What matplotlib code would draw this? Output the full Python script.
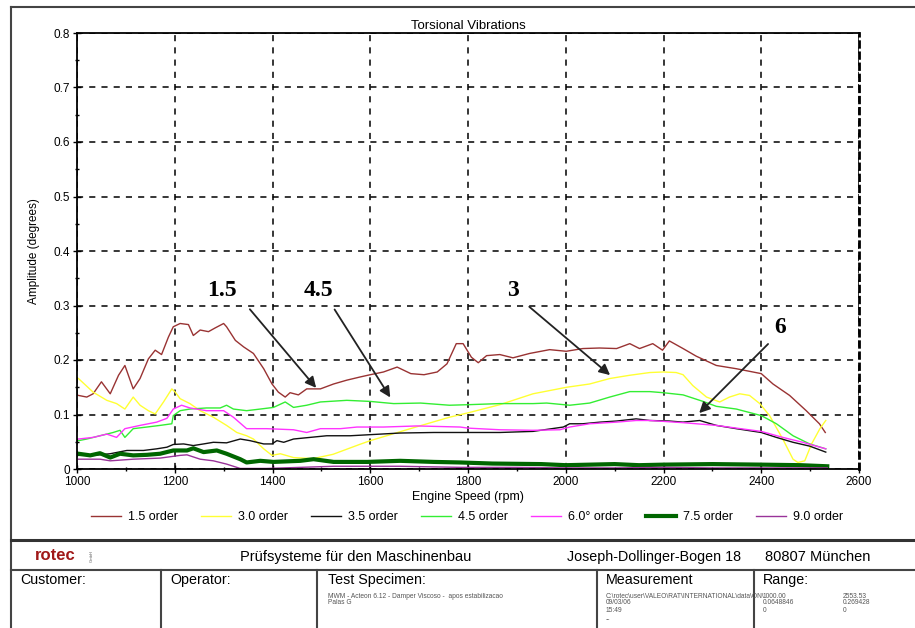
import numpy as np
import matplotlib
matplotlib.use("Agg")
import matplotlib.pyplot as plt
from matplotlib.lines import Line2D

plt.rcParams['font.family'] = ['Liberation Sans', 'DejaVu Sans']

# order curves: engine speed (rpm) and amplitude (degrees)
o15_rpm = [1003, 1020, 1033, 1050, 1068, 1085, 1098, 1115, 1129, 1146, 1160, 1173, 1187, 1197, 1211,
           1228, 1238, 1252, 1269, 1283, 1300, 1306, 1324, 1341, 1361, 1382, 1399, 1412, 1426, 1436,
           1453, 1470, 1498, 1525, 1552, 1580, 1600, 1627, 1655, 1683, 1710, 1737, 1757, 1776, 1790,
           1807, 1821, 1838, 1865, 1892, 1926, 1967, 2001, 2035, 2069, 2104, 2131, 2151, 2178, 2198,
           2212, 2240, 2267, 2308, 2349, 2400, 2424, 2458, 2492, 2519, 2531]
o15_amp = [0.135, 0.132, 0.138, 0.160, 0.138, 0.172, 0.190, 0.147, 0.166, 0.202, 0.218, 0.210, 0.242, 0.261, 0.267,
           0.265, 0.245, 0.255, 0.252, 0.259, 0.267, 0.261, 0.236, 0.224, 0.212, 0.184, 0.156, 0.141, 0.132, 0.140,
           0.136, 0.147, 0.147, 0.156, 0.163, 0.169, 0.173, 0.178, 0.187, 0.175, 0.173, 0.178, 0.193, 0.230, 0.230,
           0.205, 0.195, 0.208, 0.210, 0.204, 0.212, 0.219, 0.216, 0.221, 0.222, 0.221, 0.230, 0.221, 0.230, 0.218,
           0.235, 0.221, 0.207, 0.190, 0.184, 0.175, 0.156, 0.135, 0.107, 0.083, 0.067]

o30_rpm = [1003, 1033, 1061, 1081, 1098, 1115, 1129, 1146, 1160, 1177, 1194, 1201, 1211, 1231, 1252,
           1279, 1306, 1327, 1347, 1361, 1382, 1399, 1416, 1443, 1483, 1524, 1578, 1600, 1682, 1762,
           1800, 1865, 1933, 2002, 2049, 2090, 2131, 2172, 2199, 2226, 2240, 2260, 2288, 2315, 2335,
           2356, 2376, 2397, 2417, 2444, 2465, 2475, 2489, 2503, 2520, 2532]
o30_amp = [0.166, 0.141, 0.126, 0.120, 0.110, 0.132, 0.117, 0.107, 0.101, 0.123, 0.147, 0.141, 0.129, 0.120, 0.107,
           0.095, 0.080, 0.067, 0.061, 0.055, 0.037, 0.025, 0.028, 0.021, 0.019, 0.027, 0.045, 0.052, 0.074, 0.095,
           0.103, 0.118, 0.138, 0.150, 0.156, 0.166, 0.172, 0.177, 0.178, 0.177, 0.173, 0.153, 0.132, 0.123, 0.132,
           0.138, 0.135, 0.120, 0.098, 0.055, 0.018, 0.012, 0.015, 0.046, 0.074, 0.089]

o35_rpm = [1003, 1033, 1068, 1102, 1136, 1163, 1184, 1197, 1218, 1238, 1259, 1279, 1306, 1334, 1354,
           1382, 1399, 1409, 1423, 1443, 1477, 1511, 1559, 1600, 1661, 1730, 1800, 1865, 1933, 1995,
           2008, 2035, 2070, 2104, 2144, 2172, 2212, 2240, 2274, 2308, 2349, 2400, 2431, 2465, 2499, 2532]
o35_amp = [0.025, 0.025, 0.028, 0.034, 0.034, 0.037, 0.040, 0.045, 0.046, 0.043, 0.046, 0.049, 0.048, 0.055, 0.052,
           0.046, 0.046, 0.052, 0.049, 0.055, 0.058, 0.061, 0.061, 0.063, 0.066, 0.067, 0.067, 0.067, 0.069, 0.077,
           0.083, 0.083, 0.086, 0.088, 0.092, 0.089, 0.088, 0.086, 0.089, 0.080, 0.074, 0.067, 0.058, 0.049, 0.042, 0.031]

o45_rpm = [1003, 1020, 1047, 1074, 1088, 1098, 1115, 1143, 1170, 1194, 1197, 1211, 1231, 1265, 1293,
           1306, 1320, 1347, 1375, 1402, 1426, 1443, 1470, 1498, 1552, 1600, 1648, 1703, 1762, 1800,
           1865, 1933, 1961, 2008, 2049, 2090, 2131, 2172, 2199, 2240, 2281, 2308, 2349, 2400, 2431,
           2465, 2499, 2532]
o45_amp = [0.052, 0.055, 0.061, 0.067, 0.071, 0.058, 0.074, 0.077, 0.080, 0.083, 0.098, 0.107, 0.110, 0.112, 0.112,
           0.117, 0.110, 0.107, 0.110, 0.113, 0.123, 0.113, 0.117, 0.123, 0.126, 0.124, 0.120, 0.121, 0.117, 0.118,
           0.120, 0.120, 0.121, 0.117, 0.121, 0.132, 0.142, 0.142, 0.140, 0.136, 0.124, 0.115, 0.110, 0.098, 0.083,
           0.061, 0.046, 0.037]

o60_rpm = [1003, 1033, 1061, 1081, 1098, 1129, 1163, 1184, 1197, 1214, 1231, 1265, 1300, 1320, 1347,
           1388, 1443, 1470, 1498, 1539, 1573, 1627, 1696, 1784, 1800, 1865, 1933, 1988, 2008, 2049,
           2104, 2144, 2172, 2240, 2308, 2349, 2400, 2444, 2485, 2532]
o60_amp = [0.055, 0.058, 0.064, 0.058, 0.074, 0.080, 0.086, 0.093, 0.110, 0.117, 0.112, 0.107, 0.107, 0.095, 0.074,
           0.074, 0.072, 0.067, 0.074, 0.074, 0.077, 0.077, 0.079, 0.077, 0.075, 0.072, 0.071, 0.072, 0.077, 0.083,
           0.086, 0.089, 0.089, 0.085, 0.080, 0.075, 0.069, 0.058, 0.049, 0.037]

o75_rpm = [1003, 1027, 1047, 1068, 1088, 1115, 1143, 1170, 1197, 1225, 1238, 1259, 1286, 1306, 1334,
           1347, 1375, 1402, 1457, 1484, 1525, 1594, 1661, 1730, 1784, 1850, 1950, 2000, 2100, 2150,
           2200, 2300, 2400, 2480, 2535]
o75_amp = [0.028, 0.025, 0.029, 0.021, 0.028, 0.025, 0.026, 0.028, 0.034, 0.034, 0.038, 0.031, 0.034, 0.028, 0.018,
           0.012, 0.015, 0.013, 0.015, 0.018, 0.013, 0.013, 0.015, 0.013, 0.012, 0.010, 0.009, 0.007, 0.009, 0.007,
           0.008, 0.009, 0.008, 0.007, 0.005]

o90_rpm = [1003, 1047, 1068, 1115, 1170, 1211, 1225, 1252, 1279, 1306, 1334, 1388, 1457, 1525, 1661,
           1784, 1900, 2000, 2100, 2200, 2300, 2400, 2535]
o90_amp = [0.018, 0.018, 0.015, 0.018, 0.020, 0.025, 0.026, 0.018, 0.015, 0.009, 0.001, 0.001, 0.003, 0.005, 0.005,
           0.003, 0.003, 0.002, 0.002, 0.003, 0.002, 0.002, 0.002]

order_names = ['1.5 order', '3.0 order', '3.5 order', '4.5 order', '6.0\u00b0 order', '7.5 order', '9.0 order']

# callouts: text, text position, arrow start, arrow tip
callouts = [('1.5', (1297, 0.328), (1350, 0.297), (1493, 0.145)),
            ('4.5', (1493, 0.328), (1524, 0.297), (1644, 0.127)),
            ('3', (1892, 0.328), (1921, 0.301), (2095, 0.169)),
            ('6', (2438, 0.259), (2418, 0.233), (2269, 0.099))]

W, H = 915, 628
fig = plt.figure(figsize=(W / 100, H / 100), dpi=100)


def fx(x):
    return x / W


def fy(y):
    return 1 - y / H


ax = fig.add_axes([fx(77), fy(469), fx(859) - fx(77), fy(33) - fy(469)])

series = [(o15_rpm, o15_amp, '#993333', 1.0),
          (o30_rpm, o30_amp, '#ffff33', 1.0),
          (o35_rpm, o35_amp, '#111111', 1.0),
          (o45_rpm, o45_amp, '#33ee33', 1.0),
          (o60_rpm, o60_amp, '#ff33ff', 1.0),
          (o75_rpm, o75_amp, '#006600', 3.0),
          (o90_rpm, o90_amp, '#993399', 1.0)]
for (r, a, c, lw), name in zip(series, order_names):
    ax.plot(r, a, color=c, lw=lw, label=name)

ax.set_xlim(1000, 2600)
ax.set_ylim(0, 0.8)
ax.set_xticks(np.arange(1000, 2601, 200))
ax.set_xticks(np.arange(1000, 2601, 100), minor=True)
ax.set_yticks(np.arange(0, 0.81, 0.1))
ax.set_yticks(np.arange(0, 0.81, 0.05), minor=True)
ax.set_yticklabels(['0'] + ['%.1f' % v for v in np.arange(0.1, 0.81, 0.1)])
ax.tick_params(which='major', direction='inout', length=6, width=1, labelsize=8.5,
               top=False, right=False, pad=2)
ax.tick_params(which='minor', direction='inout', length=3, width=1, top=False, right=False)
ax.grid(True, which='major', color='black', linestyle=(0, (4, 4)), linewidth=1.1)
for s in ['left', 'bottom', 'top']:
    ax.spines[s].set_linewidth(1.3)
ax.spines['right'].set_linewidth(2)
ax.spines['right'].set_linestyle((0, (2, 2)))

ax.set_title('Torsional Vibrations', fontsize=9.5, pad=3)
ax.set_xlabel('Engine Speed (rpm)', fontsize=9, labelpad=2)
ax.set_ylabel('Amplitude (degrees)', fontsize=8.5, labelpad=10)

for txt, tpos, start, tip in callouts:
    ax.text(tpos[0], tpos[1], txt, fontsize=17, fontweight='bold', family='Liberation Serif',
            ha='center', va='center')
    ax.annotate('', xy=tip, xytext=start,
                arrowprops=dict(arrowstyle='-|>', color='#222222', lw=1.3, mutation_scale=16))

fig.legend(loc='center', bbox_to_anchor=(fx(467), fy(517)), ncol=7, frameon=False,
           fontsize=9, handlelength=2.4, columnspacing=1.8, handletextpad=0.6)

# report frame and footer
frame = dict(color='#444444', lw=1.5)
fig.add_artist(Line2D([fx(11), fx(11)], [fy(7), 0], **frame))
fig.add_artist(Line2D([fx(11), 1], [fy(7), fy(7)], **frame))
fig.add_artist(Line2D([fx(11), 1], [fy(540), fy(540)], color='#333333', lw=2.2))
fig.add_artist(Line2D([fx(11), 1], [fy(570), fy(570)], **frame))
for xc in [161, 317, 597, 754]:
    fig.add_artist(Line2D([fx(xc), fx(xc)], [fy(570), 0], **frame))

fig.text(fx(35), fy(556), 'rotec', color='#a01818', fontsize=12, fontweight='bold', va='center')
fig.text(fx(92), fy(556), 'GmbH', fontsize=3, rotation=90, va='center', ha='center', color='#555555')
fig.text(fx(240), fy(557), 'Prüfsysteme für den Maschinenbau', fontsize=10.5, va='center')
fig.text(fx(567), fy(557), 'Joseph-Dollinger-Bogen 18', fontsize=10.3, va='center')
fig.text(fx(765), fy(557), '80807 München', fontsize=10.5, va='center')

head = dict(fontsize=10.3, va='center')
fig.text(fx(20), fy(580), 'Customer:', **head)
fig.text(fx(170), fy(580), 'Operator:', **head)
fig.text(fx(328), fy(580), 'Test Specimen:', **head)
fig.text(fx(606), fy(580), 'Measurement', **head)
fig.text(fx(763), fy(580), 'Range:', **head)

small = dict(fontsize=4.8, va='center', color='#555555')
fig.text(fx(328), fy(596), 'MWM - Acteon 6.12 - Damper Viscoso -  apos estabilizacao', **small)
fig.text(fx(328), fy(603), 'Palas G', **small)
fig.text(fx(606), fy(596), 'C:\\rotec\\user\\VALEO\\RAT\\INTERNATIONAL\\data\\ON\\', **small)
fig.text(fx(606), fy(603), '09/03/06', **small)
fig.text(fx(606), fy(611), '15:49', **small)
fig.text(fx(606), fy(620), '--', **small)
fig.text(fx(763), fy(596), '1000.00', **small)
fig.text(fx(843), fy(596), '2553.53', **small)
fig.text(fx(763), fy(603), '0.0648846', **small)
fig.text(fx(843), fy(603), '0.269428', **small)
fig.text(fx(763), fy(611), '0', **small)
fig.text(fx(843), fy(611), '0', **small)

fig.savefig('out.png', dpi=100)
